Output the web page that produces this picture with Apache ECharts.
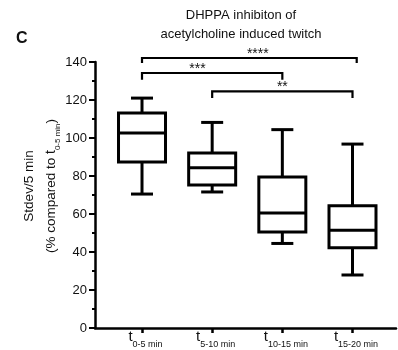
<!DOCTYPE html>
<html>
<head>
<meta charset="utf-8">
<script src="https://cdn.jsdelivr.net/npm/echarts@6/dist/echarts.min.js"></script>
<style>
  html, body { margin: 0; padding: 0; background: #fff; }
  #chart { width: 398px; height: 350px; }
</style>
</head>
<body>
<div id="chart"></div>
<script>
// Time windows (subscripts of t) and their positions on the x axis
const categories = ['0-5 min', '5-10 min', '10-15 min', '15-20 min'];
const positions = [1, 2, 3, 4];

// Box-and-whisker statistics, % compared to t(0-5 min)
const mins    = [70.5, 71.6, 44.5, 27.9];
const q1s     = [87.4, 75.3, 50.5, 42.3];
const medians = [102.6, 84.4, 60.5, 51.4];
const q3s     = [113.2, 92.1, 79.5, 64.4];
const maxs    = [121.0, 108.2, 104.4, 96.8];

// Y axis ticks
const yTicks = [0, 20, 40, 60, 80, 100, 120, 140];

// Significance brackets
const bracketFrom  = [1, 1, 2];
const bracketTo    = [4.06, 3, 4];
const bracketY     = [142.1, 134.2, 124.5];
const bracketDrop  = [139.5, 130.7, 121.0];
const bracketStars = ['****', '***', '**'];
const starX        = [2.65, 1.79, 3.0];

const FONT = '"Liberation Sans", Arial, Helvetica, sans-serif';
const BOX_W = 47;
const CAP_W = 22;
const LW = 3;

const boxData = positions.map((p, i) => [p, mins[i], q1s[i], medians[i], q3s[i], maxs[i]]);
const bracketData = bracketFrom.map((f, i) => [f, bracketTo[i], bracketY[i], bracketDrop[i], starX[i], bracketStars[i]]);

const chart = echarts.init(document.getElementById('chart'), null, { renderer: 'canvas' });

chart.setOption({
  animation: false,
  backgroundColor: '#fff',
  title: [
    {
      text: 'DHPPA inhibiton of\nacetylcholine induced twitch',
      left: 236, top: 1, textAlign: 'center',
      textStyle: { fontFamily: FONT, fontSize: 13, fontWeight: 'normal', color: '#111', lineHeight: 19 }
    },
    {
      text: 'C',
      left: 11, top: 26,
      textStyle: { fontFamily: FONT, fontSize: 16, fontWeight: 'bold', color: '#111' }
    }
  ],
  grid: { left: 95, right: 2, top: 62, bottom: 22, containLabel: false },
  xAxis: {
    type: 'value',
    min: 0.33, max: 4.62,
    splitLine: { show: false },
    axisLine: { show: true, lineStyle: { color: '#000', width: 2.5 } },
    axisTick: { show: true, customValues: positions, length: 5, lineStyle: { color: '#000', width: 2.5 } },
    axisLabel: {
      customValues: positions,
      margin: 1,
      padding: [0, 0, 0, 7],
      formatter: v => '{t|t}{s|' + categories[Math.round(v) - 1] + '}',
      rich: {
        t: { fontFamily: FONT, fontSize: 15, color: '#111', padding: [0, 0, 5, 0], verticalAlign: 'bottom' },
        s: { fontFamily: FONT, fontSize: 9, color: '#111', verticalAlign: 'bottom' }
      }
    }
  },
  yAxis: {
    type: 'value',
    min: yTicks[0], max: yTicks[yTicks.length - 1], interval: 20,
    splitLine: { show: false },
    axisLine: { show: true, lineStyle: { color: '#000', width: 2.5 } },
    axisTick: { show: true, length: 6, lineStyle: { color: '#000', width: 2 } },
    minorTick: { show: true, splitNumber: 2, length: 3, lineStyle: { color: '#000', width: 2 } },
    axisLabel: { fontFamily: FONT, fontSize: 13, color: '#111', margin: 8 },
    name: 'Stdev/5 min\n(% compared to {t|t}{s|0-5 min})',
    nameLocation: 'middle',
    nameRotate: 90,
    nameGap: 33,
    nameMoveOverlap: false,
    nameTextStyle: {
      fontFamily: FONT, fontSize: 13.5, color: '#111', lineHeight: 22,
      padding: [0, 0, 0, 18],
      rich: {
        t: { fontFamily: FONT, fontSize: 14, color: '#111', padding: [0, 0, 4, 0], verticalAlign: 'bottom' },
        s: { fontFamily: FONT, fontSize: 8, color: '#111', verticalAlign: 'bottom' }
      }
    }
  },
  series: [
    {
      type: 'custom',
      name: 'boxes',
      data: boxData,
      clip: false,
      renderItem: function (params, api) {
        const x = api.value(0);
        const pMin = api.coord([x, api.value(1)]);
        const pQ1 = api.coord([x, api.value(2)]);
        const pMed = api.coord([x, api.value(3)]);
        const pQ3 = api.coord([x, api.value(4)]);
        const pMax = api.coord([x, api.value(5)]);
        const cx = pMed[0];
        const hb = BOX_W / 2, hc = CAP_W / 2;
        const st = { stroke: '#000', lineWidth: LW, fill: null, lineCap: 'butt' };
        return {
          type: 'group',
          children: [
            { type: 'line', shape: { x1: cx, y1: pQ3[1], x2: cx, y2: pMax[1] }, style: st },
            { type: 'line', shape: { x1: cx - hc, y1: pMax[1], x2: cx + hc, y2: pMax[1] }, style: st },
            { type: 'line', shape: { x1: cx, y1: pQ1[1], x2: cx, y2: pMin[1] }, style: st },
            { type: 'line', shape: { x1: cx - hc, y1: pMin[1], x2: cx + hc, y2: pMin[1] }, style: st },
            { type: 'rect', shape: { x: cx - hb, y: pQ3[1], width: BOX_W, height: pQ1[1] - pQ3[1] },
              style: { stroke: '#000', lineWidth: LW, fill: '#fff', lineJoin: 'miter' } },
            { type: 'line', shape: { x1: cx - hb, y1: pMed[1], x2: cx + hb, y2: pMed[1] }, style: st }
          ]
        };
      }
    },
    {
      type: 'custom',
      name: 'brackets',
      data: bracketData,
      clip: false,
      renderItem: function (params, api) {
        const a = api.coord([api.value(0), api.value(2)]);
        const b = api.coord([api.value(1), api.value(2)]);
        const drop = api.coord([api.value(0), api.value(3)]);
        const s = api.coord([api.value(4), api.value(2)]);
        const st = { stroke: '#000', lineWidth: 2.2, fill: null };
        return {
          type: 'group',
          children: [
            { type: 'polyline', shape: { points: [[a[0], drop[1]], [a[0], a[1]], [b[0], b[1]], [b[0], drop[1]]] }, style: st },
            { type: 'text', x: s[0], y: a[1] - 11,
              style: { text: bracketStars[params.dataIndex], fontFamily: FONT, fontSize: 14, fill: '#111', align: 'center', verticalAlign: 'top' } }
          ]
        };
      }
    }
  ]
});
</script>
</body>
</html>
